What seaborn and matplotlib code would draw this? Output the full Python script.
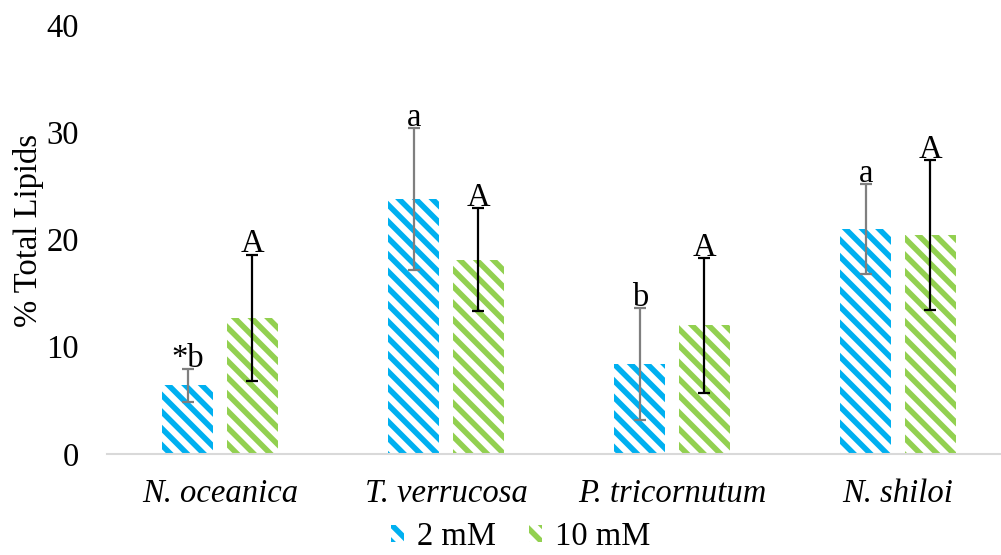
import matplotlib
matplotlib.use("Agg")
import matplotlib.pyplot as plt
from matplotlib.patches import Patch
import seaborn as sns
import pandas as pd

# values
species = ["N. oceanica", "T. verrucosa", "P. tricornutum", "N. shiloi"]
treatments = ["2 mM", "10 mM"]
lipids_2mm = [6.4, 23.8, 8.4, 21.0]
lipids_10mm = [12.7, 18.1, 12.0, 20.4]
err_2mm = [1.55, 6.6, 5.2, 4.2]
err_10mm = [5.9, 4.8, 6.3, 7.0]
letters_2mm = ["*b", "a", "b", "a"]
letters_10mm = ["A", "A", "A", "A"]

colors = ["#00B0F0", "#92D050"]
err_colors = ["#7F7F7F", "#000000"]
fs = 23.5

df = pd.DataFrame({
    "species": species * 2,
    "treatment": [treatments[0]] * 4 + [treatments[1]] * 4,
    "lipids": lipids_2mm + lipids_10mm,
})

sns.set_style("white")
plt.rcParams["font.family"] = ["Liberation Serif", "DejaVu Serif"]
plt.rcParams["hatch.linewidth"] = 4.0
plt.rcParams["text.color"] = "black"
plt.rcParams["xtick.color"] = "black"
plt.rcParams["ytick.color"] = "black"
plt.rcParams["axes.labelcolor"] = "black"

fig = plt.figure(figsize=(10.01, 5.55), dpi=100)
ax = fig.add_axes([107 / 1001, 1 - 454 / 555, 904 / 1001, 429 / 555])

sns.barplot(data=df, x="species", y="lipids", hue="treatment",
            hue_order=treatments, order=species, palette=colors,
            width=0.57, gap=0.21, errorbar=None, legend=False, ax=ax)

errs = [err_2mm, err_10mm]
letters = [letters_2mm, letters_10mm]
bar_groups = list(ax.containers)  # copy: errorbar() adds containers too
for i, cont in enumerate(bar_groups):
    xs, tops = [], []
    for bar in cont:
        bar.set_facecolor("white")
        bar.set_edgecolor(colors[i])
        bar.set_hatch("\\\\")
        bar.set_linewidth(0)
        xs.append(bar.get_x() + bar.get_width() / 2)
        tops.append(bar.get_height())
    ax.errorbar(xs, tops, yerr=errs[i], fmt="none", ecolor=err_colors[i],
                elinewidth=1.6, capsize=4.5, capthick=1.6)
    for x, t, e, lab in zip(xs, tops, errs[i], letters[i]):
        ax.text(x, t + e + 0.2, lab, ha="center", va="baseline", fontsize=fs)

ax.set_ylim(0, 40)
ax.set_xlim(-0.5, 3.5)
ax.set_yticks([0, 10, 20, 30, 40])
ax.set_xlabel("")
ax.set_ylabel("% Total Lipids", fontsize=fs)
ax.yaxis.set_label_coords(-0.07, 0.52)
ax.tick_params(axis="y", length=0, pad=20, labelsize=fs)
ax.tick_params(axis="x", length=0, pad=18, labelsize=fs)
for lab in ax.get_xticklabels():
    lab.set_style("italic")

for s in ["top", "right", "left"]:
    ax.spines[s].set_visible(False)
ax.spines["bottom"].set_color("#D9D9D9")
ax.spines["bottom"].set_linewidth(1.5)

handles = [Patch(facecolor="white", edgecolor=c, hatch="\\\\", linewidth=0)
           for c in colors]
fig.legend(handles, treatments, loc="center", ncol=2, frameon=False,
           bbox_to_anchor=(521 / 1001, 1 - 537 / 555), fontsize=fs,
           handlelength=0.4, handleheight=0.4, handletextpad=0.4,
           columnspacing=1.0, borderpad=0.0)

fig.savefig("out.png", dpi=100)
